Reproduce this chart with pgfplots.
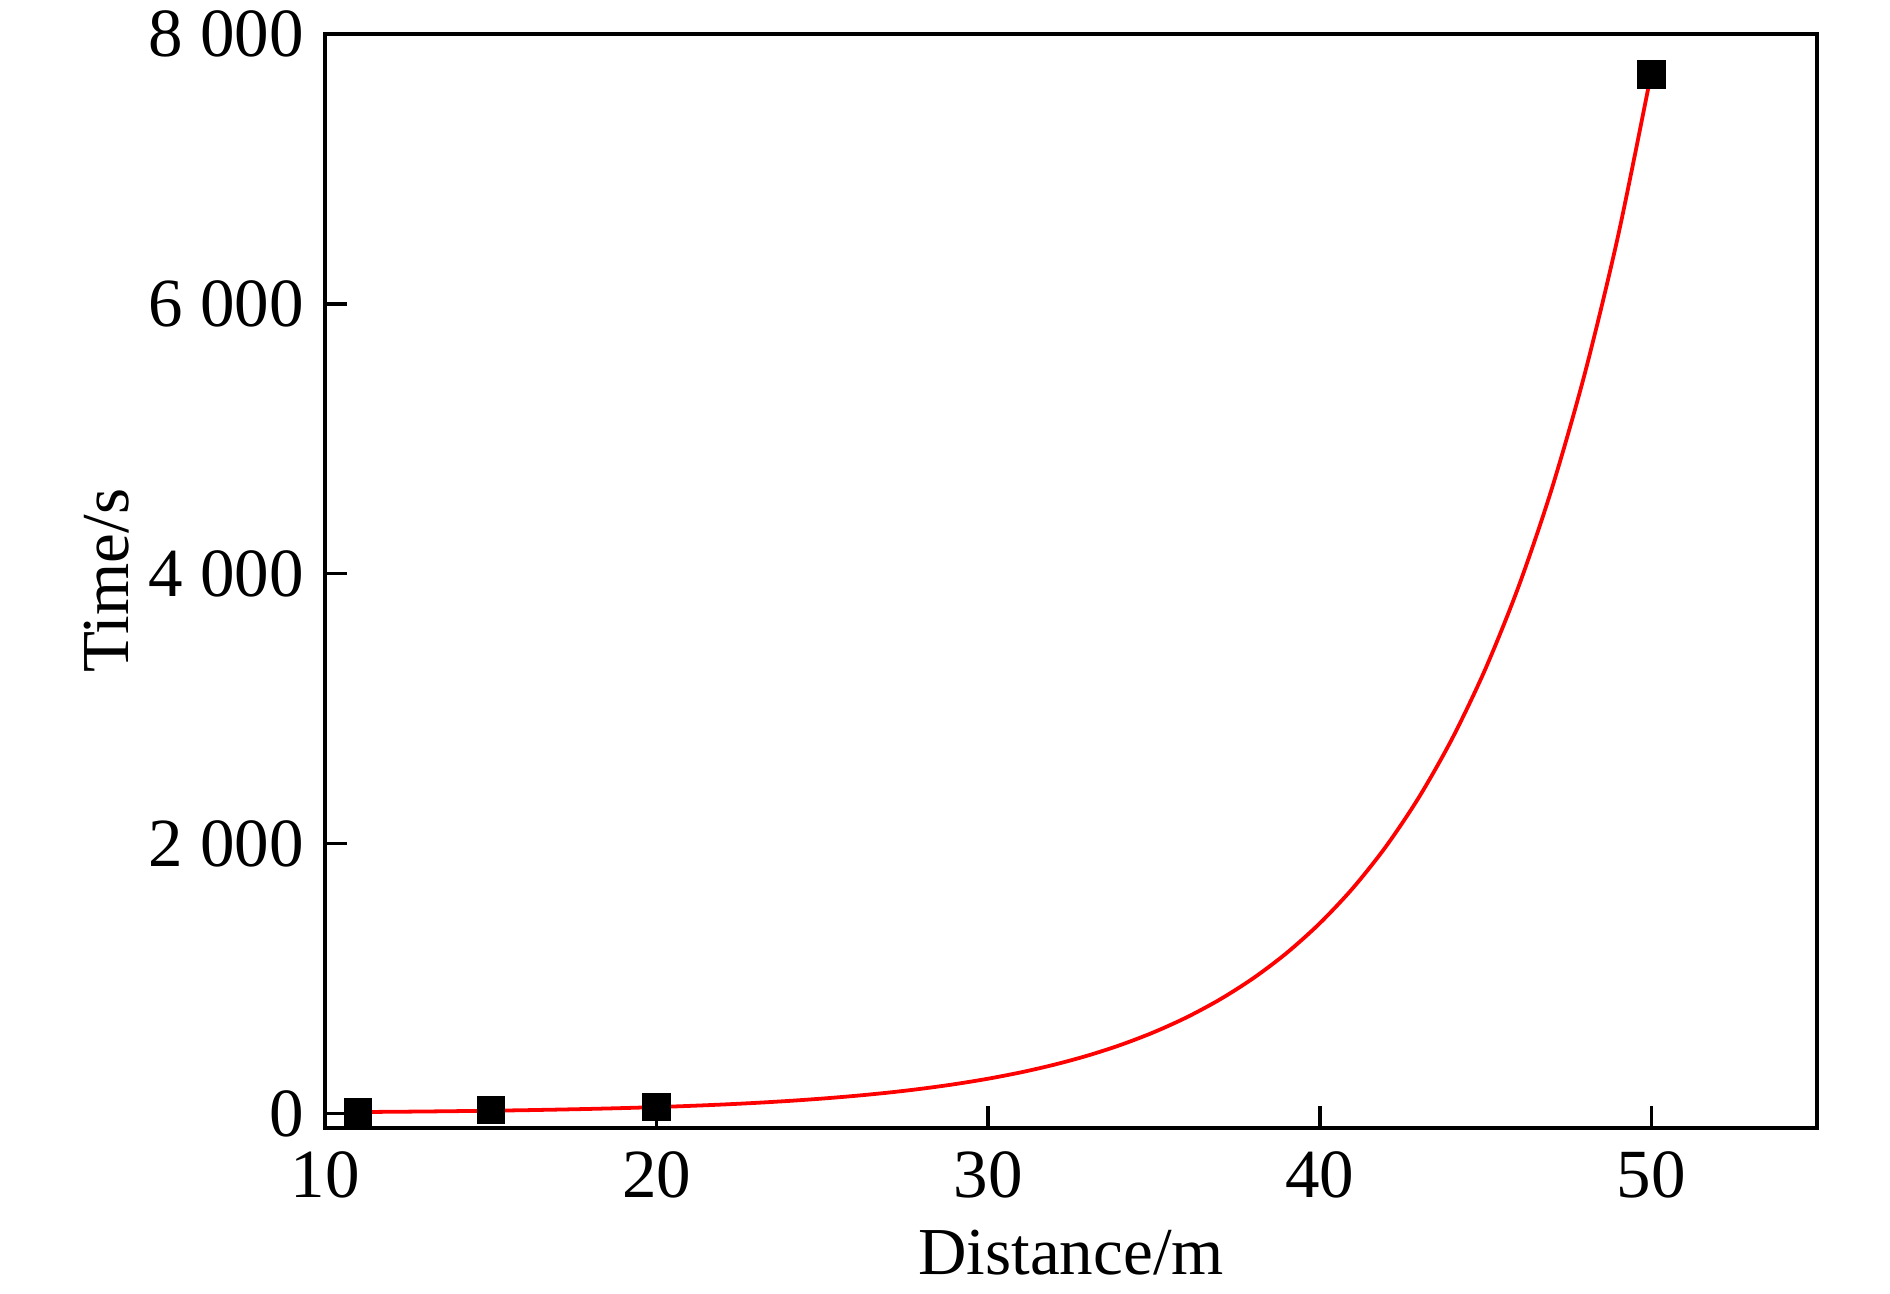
\documentclass[border=0pt]{standalone}
\usepackage{fontspec}
\setmainfont{Liberation Serif}
\usepackage{pgfplots}
\pgfplotsset{compat=1.18}
\begin{document}
\begin{tikzpicture}
\path[use as bounding box] (-68.8pt,-35pt) rectangle (331.2pt,238.7pt);
\begin{axis}[
  at={(0,0)}, anchor=south west,
  scale only axis,
  width=315.8pt, height=231.5pt,
  xmin=10, xmax=55,
  ymin=-107, ymax=8000,
  xtick={10,20,30,40,50},
  ytick={0,2000,4000,6000,8000},
  scaled y ticks=false,
  tick align=inside,
  xtick pos=bottom, ytick pos=left,
  major tick length=4.6pt,
  axis line style={line width=0.75pt},
  every tick/.style={black, line width=0.75pt},
  /pgf/number format/assume math mode=true,
  /pgf/number format/1000 sep={\ },
  tick label style={font=\fontsize{14.6}{17}\selectfont},
  xticklabel style={yshift=-1.5pt},
  yticklabel style={xshift=-1pt},
  xlabel={Distance/m},
  ylabel={Time/s},
  label style={font=\fontsize{14.2}{17}\selectfont},
  xlabel style={at={(axis description cs:0.5,-0.1145)}, anchor=center},
  ylabel style={at={(axis description cs:-0.1466,0.5)}, anchor=center},
]
\addplot[red, line width=0.8pt, smooth] coordinates {
(11,10.2) (12,12.1) (13,14.3) (14,17.0) (15,20.1) (16,23.8) (17,28.3) (18,33.5) (19,39.7) (20,47.0)
(21,55.8) (22,66.1) (23,78.3) (24,92.9) (25,110.1) (26,130.5) (27,154.6) (28,183.3) (29,217.3) (30,257.5)
(31,305.2) (32,361.8) (33,428.8) (34,508.3) (35,602.5) (36,714.1) (37,846.5) (38,1003.3) (39,1189.2) (40,1409.6)
(41,1670.8) (42,1980.4) (43,2347.5) (44,2782.4) (45,3298.0) (46,3909.1) (47,4633.5) (48,5492.2) (49,6510.0) (50,7716.2)
};
\addplot[only marks, mark=square*, mark size=2.8pt, black] coordinates {
(11,10) (15,25) (20,50) (50,7700)
};
\end{axis}
\end{tikzpicture}
\end{document}
